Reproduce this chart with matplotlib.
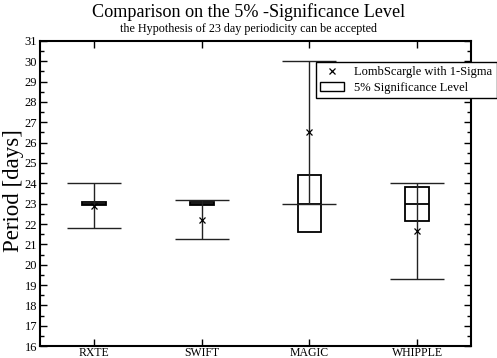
"""
Comparison on the 5% significance level: LombScargle period with 1-sigma
error bars and the 5% significance box around 23 days.
"""
import numpy as np
import matplotlib
matplotlib.use("Agg")
import matplotlib.pyplot as plt
from matplotlib.patches import Rectangle
from matplotlib.ticker import MultipleLocator

# ======================================================================
instruments = ["RXTE", "SWIFT", "MAGIC", "WHIPPLE"]

# LombScargle period and 1-sigma error
ls_period = [22.9, 22.22, 26.5, 21.65]
ls_sigma = [1.1, 0.97, 3.5, 2.35]

# 5% significance level (lower, upper) and centre
sig_low = [22.93, 22.92, 21.6, 22.17]
sig_high = [23.07, 23.08, 24.4, 23.83]
sig_mid = [23.0, 23.0, 23.0, 23.0]
# ======================================================================

plt.rcParams["font.family"] = ["Liberation Serif", "DejaVu Serif"]

fig = plt.figure(figsize=(4.97, 3.58), dpi=100)
ax = fig.add_axes([0.0805, 0.0335, 0.8675, 0.852])

x = np.arange(1, len(instruments) + 1)
box_w = 0.222

# caixas de significancia
for xi, lo, hi, mid in zip(x, sig_low, sig_high, sig_mid):
    ax.add_patch(Rectangle((xi - box_w / 2, lo), box_w, hi - lo,
                           facecolor="none", edgecolor="black", lw=1.3, zorder=2))
    ax.hlines(mid, xi - box_w / 2, xi + box_w / 2, color="black", lw=1.3, zorder=2)

# barras de erro LombScargle
ax.errorbar(x, ls_period, yerr=ls_sigma, fmt="none", ecolor="#222222",
            elinewidth=1.0, capsize=19.4, capthick=1.0, zorder=3)
ax.plot(x, ls_period, ls="none", marker="x", ms=5, mew=0.9, color="black", zorder=4)

ax.set_xlim(0.5, 4.5)
ax.set_ylim(16, 31)
ax.set_xticks(x)
ax.set_xticklabels(instruments)
ax.yaxis.set_major_locator(MultipleLocator(1))
ax.yaxis.set_minor_locator(MultipleLocator(0.5))
ax.tick_params(axis="both", which="major", direction="in", length=5, width=1,
               top=True, right=True, labelsize=9, pad=2)
ax.tick_params(axis="x", labelsize=8.5, pad=1)
ax.tick_params(axis="y", which="minor", direction="in", length=3, width=1,
               left=True, right=True)
for sp in ax.spines.values():
    sp.set_linewidth(1.5)

ax.set_ylabel("Period [days]", fontsize=16.5)
ax.yaxis.set_label_coords(-0.036, 0.51)
fig.text(0.5, 0.967, "Comparison on the 5% -Significance Level",
         ha="center", va="center", fontsize=13.1)
fig.text(0.5, 0.918, "the Hypothesis of 23 day periodicity can be accepted",
         ha="center", va="center", fontsize=8.7)

h_ls = plt.Line2D([], [], ls="none", marker="x", ms=5, mew=0.9, color="black")
h_box = Rectangle((0, 0), 1, 1, facecolor="none", edgecolor="black", lw=1)
leg = ax.legend([h_ls, h_box], ["LombScargle with 1-Sigma", "5% Significance Level"],
                loc="upper left", bbox_to_anchor=(0.640, 0.931), fontsize=9,
                fancybox=False, framealpha=1, edgecolor="black",
                handlelength=1.9, handletextpad=0.8, borderaxespad=0,
                borderpad=0.35, labelspacing=0.25)
leg.get_frame().set_linewidth(1.0)
leg.set_zorder(5)

fig.savefig("out.png", dpi=100)
